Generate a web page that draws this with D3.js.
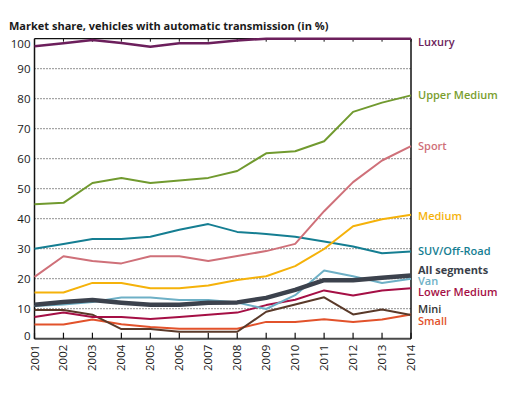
<!DOCTYPE html>
<html>
<head>
<meta charset="utf-8">
<script src="https://cdn.jsdelivr.net/npm/d3@7"></script>
<style>
  body { margin: 0; background: #fff; }
  svg { font-family: "Open Sans", sans-serif; }
  .title { font-size: 11px; font-weight: 700; fill: #1a1a1a; }
  .tick-label { font-size: 11.5px; fill: #1a1a1a; }
  .grid line { stroke: #222; stroke-width: 1; stroke-dasharray: 1,2; }
  .series-label { font-size: 11px; font-weight: 600; }
</style>
</head>
<body>
<div id="chart"></div>
<script>
var years = [2001, 2002, 2003, 2004, 2005, 2006, 2007, 2008, 2009, 2010, 2011, 2012, 2013, 2014];
var yTicks = [0, 10, 20, 30, 40, 50, 60, 70, 80, 90, 100];

// market share per segment, in %
var luxury       = [97.5, 98.5, 99.6, 98.6, 97.3, 98.5, 98.5, 99.4, 100, 100, 100, 100, 100, 100];
var upperMedium  = [44.8, 45.3, 51.9, 53.6, 51.9, 52.7, 53.6, 55.9, 61.8, 62.5, 65.8, 75.6, 78.7, 81.1];
var sport        = [20.6, 27.5, 25.9, 25.1, 27.5, 27.5, 25.9, 27.6, 29.2, 31.6, 42.5, 52.2, 59.4, 64.2];
var medium       = [15.4, 15.4, 18.6, 18.6, 16.8, 16.8, 17.7, 19.6, 20.8, 24.2, 29.9, 37.5, 39.8, 41.3];
var suv          = [30.0, 31.6, 33.2, 33.2, 34.0, 36.3, 38.2, 35.6, 34.9, 34.0, 32.4, 30.7, 28.5, 29.1];
var allSegments  = [11.3, 12.2, 12.9, 12.0, 11.3, 11.3, 12.0, 12.1, 13.6, 16.3, 19.5, 19.5, 20.3, 21.1];
var van          = [10.9, 11.4, 12.2, 13.7, 13.7, 12.9, 12.9, 12.1, 9.9, 14.5, 22.7, 20.8, 18.6, 20.0];
var lowerMedium  = [7.2, 8.7, 7.2, 7.2, 6.6, 7.2, 8.0, 8.7, 11.2, 13.0, 16.1, 14.4, 16.1, 16.8];
var mini         = [9.6, 9.6, 8.0, 3.2, 3.2, 2.3, 2.3, 2.3, 9.0, 11.4, 13.8, 8.1, 9.7, 7.9];
var small        = [4.7, 4.7, 6.4, 4.8, 3.9, 3.3, 3.3, 3.3, 5.6, 5.6, 6.5, 5.6, 6.4, 8.1];

var seriesNames = ["Small", "Mini", "Lower Medium", "Van", "SUV/Off-Road", "Medium", "Sport", "Upper Medium", "Luxury", "All segments"];
var seriesValues = [small, mini, lowerMedium, van, suv, medium, sport, upperMedium, luxury, allSegments];
var seriesColors = ["#e2522b", "#5a3a2a", "#a50f45", "#6eb0c6", "#157e92", "#f5b20a", "#cf7079", "#719a2f", "#6c1f5c", "#3c424d"];
var labelColors  = ["#e2522b", "#333333", "#a50f45", "#6eb0c6", "#157e92", "#f5b20a", "#cf7079", "#7a9e2e", "#6c1f5c", "#3a3f4a"];

var width = 523, height = 397;
var margin = { top: 38.7, right: 112, bottom: 58.3, left: 34.5 };
var innerW = width - margin.left - margin.right;
var innerH = height - margin.top - margin.bottom;

var svg = d3.select("#chart").append("svg")
  .attr("width", width)
  .attr("height", height);

svg.append("text")
  .attr("class", "title")
  .attr("x", 9)
  .attr("y", 29.5)
  .text("Market share, vehicles with automatic transmission (in %)");

var x = d3.scaleLinear().domain([2001, 2014]).range([0, innerW]);
var y = d3.scaleLinear().domain([0, 100]).range([innerH, 0]);

var g = svg.append("g").attr("transform", "translate(" + margin.left + "," + margin.top + ")");

// dotted gridlines
g.append("g").attr("class", "grid")
  .selectAll("line")
  .data(yTicks.filter(function(d) { return d > 0 && d < 100; }))
  .enter().append("line")
  .attr("x1", 0).attr("x2", innerW)
  .attr("y1", function(d) { return y(d); })
  .attr("y2", function(d) { return y(d); });

// y labels (top and bottom labels sit slightly inside)
g.append("g")
  .selectAll("text")
  .data(yTicks)
  .enter().append("text")
  .attr("class", "tick-label")
  .attr("x", -4)
  .attr("y", function(d) {
    var nudge = d == 100 ? 5 : (d == 0 ? -3 : 0);
    return y(d) + nudge;
  })
  .attr("dy", "0.36em")
  .attr("text-anchor", "end")
  .text(function(d) { return d; });

// bottom axis
g.append("line")
  .attr("x1", 0).attr("x2", innerW)
  .attr("y1", innerH).attr("y2", innerH)
  .attr("stroke", "#4a4a4a").attr("stroke-width", 2);

g.append("g")
  .selectAll("line")
  .data(years)
  .enter().append("line")
  .attr("x1", function(d) { return x(d); })
  .attr("x2", function(d) { return x(d); })
  .attr("y1", innerH).attr("y2", innerH - 6)
  .attr("stroke", "#111").attr("stroke-width", 1.2);

g.append("g")
  .selectAll("text")
  .data(years)
  .enter().append("text")
  .attr("class", "tick-label")
  .attr("transform", function(d) { return "translate(" + (x(d) + 4) + "," + (innerH + 6) + ") rotate(-90)"; })
  .attr("text-anchor", "end")
  .text(function(d) { return d; });

// top ticks
g.append("g")
  .selectAll("line")
  .data(years)
  .enter().append("line")
  .attr("x1", function(d) { return x(d); })
  .attr("x2", function(d) { return x(d); })
  .attr("y1", 0).attr("y2", 3)
  .attr("stroke", "#111").attr("stroke-width", 1);

// frame
g.append("line").attr("x1", 0).attr("x2", innerW).attr("y1", 0).attr("y2", 0)
  .attr("stroke", "#111").attr("stroke-width", 1.2);
g.append("line").attr("x1", 0).attr("x2", 0).attr("y1", 0).attr("y2", innerH)
  .attr("stroke", "#111").attr("stroke-width", 1.5);
g.append("line").attr("x1", innerW).attr("x2", innerW).attr("y1", 0).attr("y2", innerH)
  .attr("stroke", "#111").attr("stroke-width", 1.5);

var line = d3.line()
  .x(function(d, i) { return x(years[i]); })
  .y(function(d) { return y(d); });

g.append("g")
  .selectAll("path")
  .data(seriesValues)
  .enter().append("path")
  .attr("d", line)
  .attr("fill", "none")
  .attr("stroke", function(d, i) { return seriesColors[i]; })
  .attr("stroke-width", function(d, i) { return seriesNames[i] == "All segments" ? 4.5 : (seriesNames[i] == "Luxury" ? 2.5 : 2); })
  .attr("stroke-linejoin", "round");

// label nudges so the names don't collide at the right edge
var labelNudge = { "Luxury": 3, "Medium": 1, "All segments": -5.5, "Van": 2.5, "Lower Medium": 4, "Mini": -5.5, "Small": 6.5 };

g.append("g")
  .selectAll("text")
  .data(seriesNames)
  .enter().append("text")
  .attr("class", "series-label")
  .attr("x", innerW + 7)
  .attr("y", function(d, i) {
    var v = seriesValues[i][seriesValues[i].length - 1];
    return y(v) + (labelNudge[d] || 0);
  })
  .attr("dy", "0.36em")
  .attr("fill", function(d, i) { return labelColors[i]; })
  .style("font-weight", function(d) { return d == "All segments" ? 700 : 600; })
  .text(function(d) { return d; });
</script>
</body>
</html>
